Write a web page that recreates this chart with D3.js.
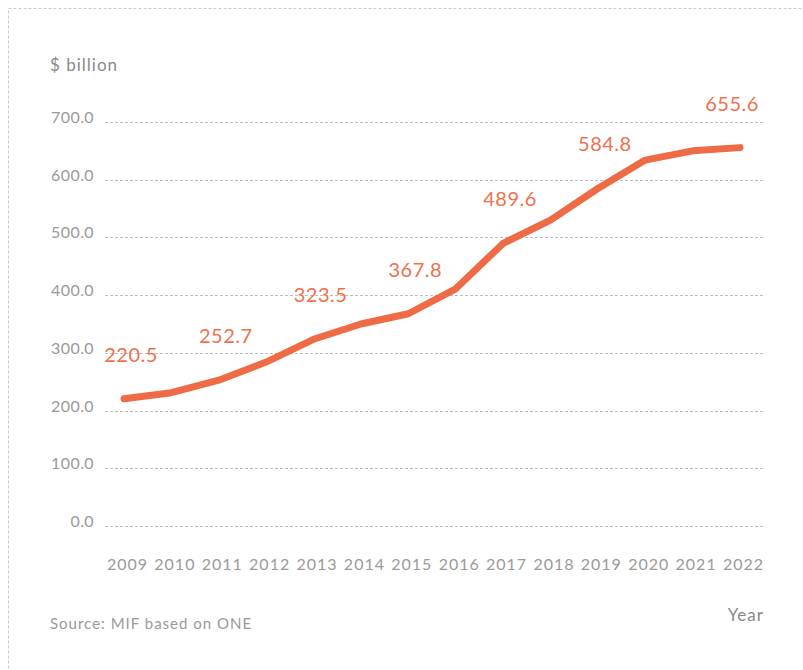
<!DOCTYPE html>
<html>
<head>
<meta charset="utf-8">
<script src="https://cdn.jsdelivr.net/npm/d3@7"></script>
<style>
  body { margin: 0; background: #fff; }
  svg { font-family: Lato, "Open Sans", sans-serif; }
  .axisText { fill: #9a9a9a; font-size: 16px; letter-spacing: 1px; }
  .gridLine { stroke: #bdbdbd; stroke-width: 1; stroke-dasharray: 3,2; }
  .valueLabel { fill: #f0704c; font-size: 20px; letter-spacing: 0.5px; text-anchor: middle; }
</style>
</head>
<body>
<script>

var years = [2009, 2010, 2011, 2012, 2013, 2014, 2015, 2016, 2017, 2018, 2019, 2020, 2021, 2022];
var values = [220.5, 231, 252.7, 284, 323.5, 350, 367.8, 411, 489.6, 530, 584.8, 634, 650, 655.6];
var labelledYears = [2009, 2011, 2013, 2015, 2017, 2019, 2022];
var yTicks = [0, 100, 200, 300, 400, 500, 600, 700];

var width = 803, height = 670;

var svg = d3.select("body").append("svg")
  .attr("width", width)
  .attr("height", height);

// dashed frame, right and bottom run off the page
svg.append("rect")
  .attr("x", 8.5).attr("y", 8.5)
  .attr("width", 820).attr("height", 700)
  .attr("fill", "none")
  .attr("stroke", "#c8c8c8")
  .attr("stroke-dasharray", "3,2");

var x = d3.scalePoint().domain(years).range([124, 740]);
var y = d3.scaleLinear().domain([0, 700]).range([526, 122]);

/************************************************************************************************************/

// grid + y labels
var grid = svg.append("g");
yTicks.forEach(function(t){
  grid.append("line")
    .attr("class", "gridLine")
    .attr("x1", 105).attr("x2", 763)
    .attr("y1", Math.round(y(t)) + 0.5).attr("y2", Math.round(y(t)) + 0.5);
  grid.append("text")
    .attr("class", "axisText")
    .style("letter-spacing", "0.4px")
    .attr("x", 94)
    .attr("y", y(t) + 1)
    .attr("text-anchor", "end")
    .text(d3.format(".1f")(t));
});

// x labels
svg.append("g").selectAll("text").data(years).enter().append("text")
  .attr("class", "axisText")
  .attr("x", function(d){ return x(d) + 3.5; })
  .attr("y", 570)
  .attr("text-anchor", "middle")
  .text(function(d){ return d; });

/************************************************************************************************************/

var line = d3.line()
  .x(function(d, i){ return x(years[i]); })
  .y(function(d){ return y(d); });

svg.append("path")
  .datum(values)
  .attr("d", line)
  .attr("fill", "none")
  .attr("stroke", "#ef6b46")
  .attr("stroke-width", 7)
  .attr("stroke-linecap", "round")
  .attr("stroke-linejoin", "round");

svg.append("g").selectAll("text").data(labelledYears).enter().append("text")
  .attr("class", "valueLabel")
  .attr("x", function(d){ return x(d) + (d === 2022 ? -8 : 7); })
  .attr("y", function(d){ return y(values[years.indexOf(d)]) - 37; })
  .text(function(d){ return d3.format(".1f")(values[years.indexOf(d)]); });

/************************************************************************************************************/

svg.append("text")
  .attr("class", "axisText")
  .attr("x", 50).attr("y", 71)
  .style("font-size", "17px")
  .style("fill", "#8a8a8a")
  .text("$ billion");

svg.append("text")
  .attr("class", "axisText")
  .attr("x", 764).attr("y", 621)
  .attr("text-anchor", "end")
  .style("font-size", "17px")
  .style("fill", "#8a8a8a")
  .text("Year");

svg.append("text")
  .attr("class", "axisText")
  .attr("x", 50).attr("y", 629)
  .style("font-size", "15px")
  .text("Source: MIF based on ONE");

</script>
</body>
</html>
